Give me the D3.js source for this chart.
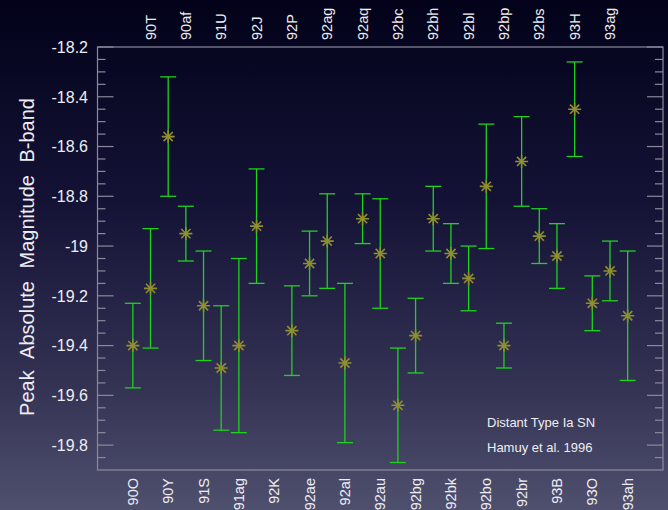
<!DOCTYPE html>
<html>
<head>
<meta charset="utf-8">
<style>
    body { margin: 0; background: #000; }
    svg { display: block; }
    text { font-family: "Liberation Sans", Arial, sans-serif; fill: #eeeef2; }
    .frame { fill: none; stroke: #8a8a9c; stroke-width: 1.2; }
    .tick { stroke: #8a8a9c; stroke-width: 1.2; }
</style>
</head>
<body>
<svg width="668" height="510"></svg>
<script src="https://cdn.jsdelivr.net/npm/d3@7"></script>
<script>
// supernovae, in plot order (labels alternate bottom / top)
var names = ["90O", "90T", "90Y", "90af", "91S", "91U", "91ag", "92J", "92K", "92P",
    "92ae", "92ag", "92al", "92aq", "92au", "92bc", "92bg", "92bh", "92bk", "92bl",
    "92bo", "92bp", "92br", "92bs", "93B", "93H", "93O", "93ag", "93ah"];
// peak absolute B magnitude (92K off scale)
var mags = [-19.40, -19.17, -18.56, -18.95, -19.24, -19.49, -19.40, -18.92, null, -19.34,
    -19.07, -18.98, -19.47, -18.89, -19.03, -19.64, -19.36, -18.89, -19.03, -19.13,
    -18.76, -19.40, -18.66, -18.96, -19.04, -18.45, -19.23, -19.10, -19.28];
var errs = [0.17, 0.24, 0.24, 0.11, 0.22, 0.25, 0.35, 0.23, null, 0.18,
    0.13, 0.19, 0.32, 0.10, 0.22, 0.23, 0.15, 0.13, 0.12, 0.13,
    0.25, 0.09, 0.18, 0.11, 0.13, 0.19, 0.11, 0.12, 0.26];
var yTicks = [-18.2, -18.4, -18.6, -18.8, -19, -19.2, -19.4, -19.6, -19.8];

var svg = d3.select("svg"),
    width = 668,
    height = 510;
var plotL = 97.5, plotR = 663, plotT = 47, plotB = 470;

// background
var defs = svg.append("defs");
var grad = defs.append("linearGradient")
    .attr("id", "bg").attr("x1", 0).attr("y1", 0).attr("x2", 0).attr("y2", 1);
grad.append("stop").attr("offset", "0%").attr("stop-color", "#03021a");
grad.append("stop").attr("offset", "40%").attr("stop-color", "#141336");
grad.append("stop").attr("offset", "75%").attr("stop-color", "#333253");
grad.append("stop").attr("offset", "100%").attr("stop-color", "#4f4f6e");
svg.append("rect").attr("width", width).attr("height", height).attr("fill", "url(#bg)");

var x = d3.scalePoint().domain(names).range([plotL, plotR]).padding(2);
var y = d3.scaleLinear().domain([-18.2, -19.9]).range([plotT, plotB]);

// frame
svg.append("rect").attr("class", "frame")
    .attr("x", plotL).attr("y", plotT)
    .attr("width", plotR - plotL).attr("height", plotB - plotT);

// ticks on both sides, minor every 0.05
var minor = d3.range(0, 35).map(function (i) { return -18.2 - i * 0.05; })
    .filter(function (v) { return v > -19.9; });
var tg = svg.append("g");
minor.forEach(function (v, i) {
    var len = (i % 4 === 0) ? 16 : 8;
    tg.append("line").attr("class", "tick")
        .attr("x1", plotL).attr("x2", plotL + len)
        .attr("y1", y(v)).attr("y2", y(v));
    tg.append("line").attr("class", "tick")
        .attr("x1", plotR).attr("x2", plotR - len)
        .attr("y1", y(v)).attr("y2", y(v));
});

svg.append("g").selectAll("text")
    .data(yTicks)
    .enter().append("text")
    .attr("x", 88)
    .attr("y", function (d) { return y(d); })
    .attr("dy", "0.36em")
    .attr("text-anchor", "end")
    .style("font-size", "16px")
    .text(function (d) { return d; });

svg.append("text")
    .attr("transform", "translate(34,257) rotate(-90)")
    .attr("text-anchor", "middle")
    .style("font-size", "20px")
    .style("word-spacing", "7px")
    .text("Peak Absolute Magnitude B-band");

// category labels, alternating top and bottom
svg.append("g").selectAll("text")
    .data(names)
    .enter().append("text")
    .attr("transform", function (d, i) {
        var yy = i % 2 === 0 ? 478 : 40;
        return "translate(" + (x(d) + 5) + "," + yy + ") rotate(-90)";
    })
    .attr("text-anchor", function (d, i) { return i % 2 === 0 ? "end" : "start"; })
    .style("font-size", "14.5px")
    .text(function (d) { return d; });

// error bars
var pts = names.map(function (n, i) { return { name: n, mag: mags[i], err: errs[i] }; })
    .filter(function (d) { return d.mag !== null; });

var eb = svg.append("g").attr("stroke", "#1ed21e").attr("stroke-width", 1.3);
pts.forEach(function (d) {
    var cx = x(d.name);
    eb.append("line").attr("x1", cx).attr("x2", cx)
        .attr("y1", y(d.mag + d.err)).attr("y2", y(d.mag - d.err));
    eb.append("line").attr("x1", cx - 8).attr("x2", cx + 8)
        .attr("y1", y(d.mag + d.err)).attr("y2", y(d.mag + d.err));
    eb.append("line").attr("x1", cx - 8).attr("x2", cx + 8)
        .attr("y1", y(d.mag - d.err)).attr("y2", y(d.mag - d.err));
});

// star markers
var star = function (r) {
    var p = d3.path();
    for (var k = 0; k < 4; k++) {
        var a = k * Math.PI / 4;
        p.moveTo(-r * Math.cos(a), -r * Math.sin(a));
        p.lineTo(r * Math.cos(a), r * Math.sin(a));
    }
    return p.toString();
};
svg.append("g").selectAll("path")
    .data(pts)
    .enter().append("path")
    .attr("transform", function (d) { return "translate(" + x(d.name) + "," + y(d.mag) + ")"; })
    .attr("d", star(6.5))
    .attr("fill", "none")
    .attr("stroke", "#8e8f2e")
    .attr("stroke-width", 1.6);

// note
svg.append("text").attr("x", 487).attr("y", 427)
    .style("font-size", "13px").text("Distant Type Ia SN");
svg.append("text").attr("x", 487).attr("y", 452)
    .style("font-size", "13px").text("Hamuy et al. 1996");
</script>
</body>
</html>
